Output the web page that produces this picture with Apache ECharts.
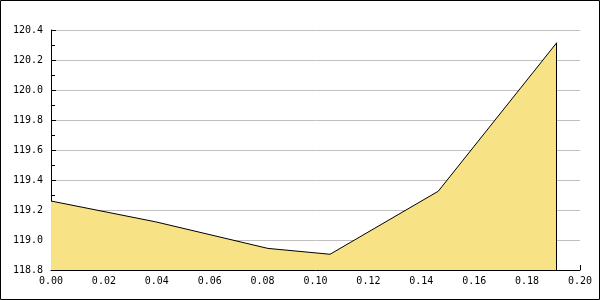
<!DOCTYPE html>
<html><head><meta charset="utf-8">
<script src="https://cdn.jsdelivr.net/npm/echarts@6/dist/echarts.min.js"></script>
<style>html,body{margin:0;padding:0;background:#fff}#c{width:600px;height:300px}</style>
</head><body><div id="c"></div>
<script>
const xValues = [0.0, 0.0396, 0.082, 0.1055, 0.1464, 0.1912];
const yValues = [119.26, 119.121, 118.944, 118.905, 119.325, 120.315];
const yTicks = { min: 118.8, max: 120.4, interval: 0.2 };
const xTicks = { min: 0, max: 0.2, interval: 0.02 };

const data = xValues.map((x, i) => [x, yValues[i]]);
const lastX = xValues[xValues.length - 1];
const lastY = yValues[yValues.length - 1];
const font = 'DejaVu Sans Mono';

const chart = echarts.init(document.getElementById('c'), null, { renderer: 'canvas' });
chart.setOption({
  animation: false,
  backgroundColor: '#fff',
  grid: { left: 51, right: 20, top: 30, bottom: 30, containLabel: false },
  graphic: [{ type: 'rect', shape: { x: 0.5, y: 0.5, width: 599, height: 299 },
    style: { fill: 'none', stroke: '#000', lineWidth: 1 }, z: 100 }],
  xAxis: {
    type: 'value', min: xTicks.min, max: xTicks.max, interval: xTicks.interval,
    axisLine: { show: true, onZero: false, lineStyle: { color: '#000', width: 1 } },
    axisTick: { show: true, inside: true, length: 5, lineStyle: { color: '#000' } },
    axisLabel: { color: '#000', fontFamily: font, fontSize: 10, margin: 6,
      formatter: v => v.toFixed(2) },
    splitLine: { show: false }
  },
  yAxis: {
    type: 'value', min: yTicks.min, max: yTicks.max, interval: yTicks.interval,
    axisLine: { show: true, lineStyle: { color: '#000', width: 1 } },
    axisTick: { show: true, inside: true, length: 5, lineStyle: { color: '#000' } },
    minorTick: { show: true, splitNumber: 2, length: 4, lineStyle: { color: '#000' } },
    axisLabel: { color: '#000', fontFamily: font, fontSize: 10, margin: 8,
      formatter: v => v.toFixed(1) },
    splitLine: { show: true, lineStyle: { color: '#c0c0c0', width: 1 } }
  },
  series: [{
    type: 'line', data: data, showSymbol: false, symbol: 'none',
    lineStyle: { color: '#000', width: 1 },
    areaStyle: { color: '#f7e285', opacity: 1, origin: 'start' },
    markLine: {
      silent: true, symbol: ['none', 'none'], label: { show: false },
      lineStyle: { color: '#000', width: 1, type: 'solid' },
      data: [[{ coord: [lastX, yTicks.min] }, { coord: [lastX, lastY] }]]
    }
  }]
});
</script></body></html>
